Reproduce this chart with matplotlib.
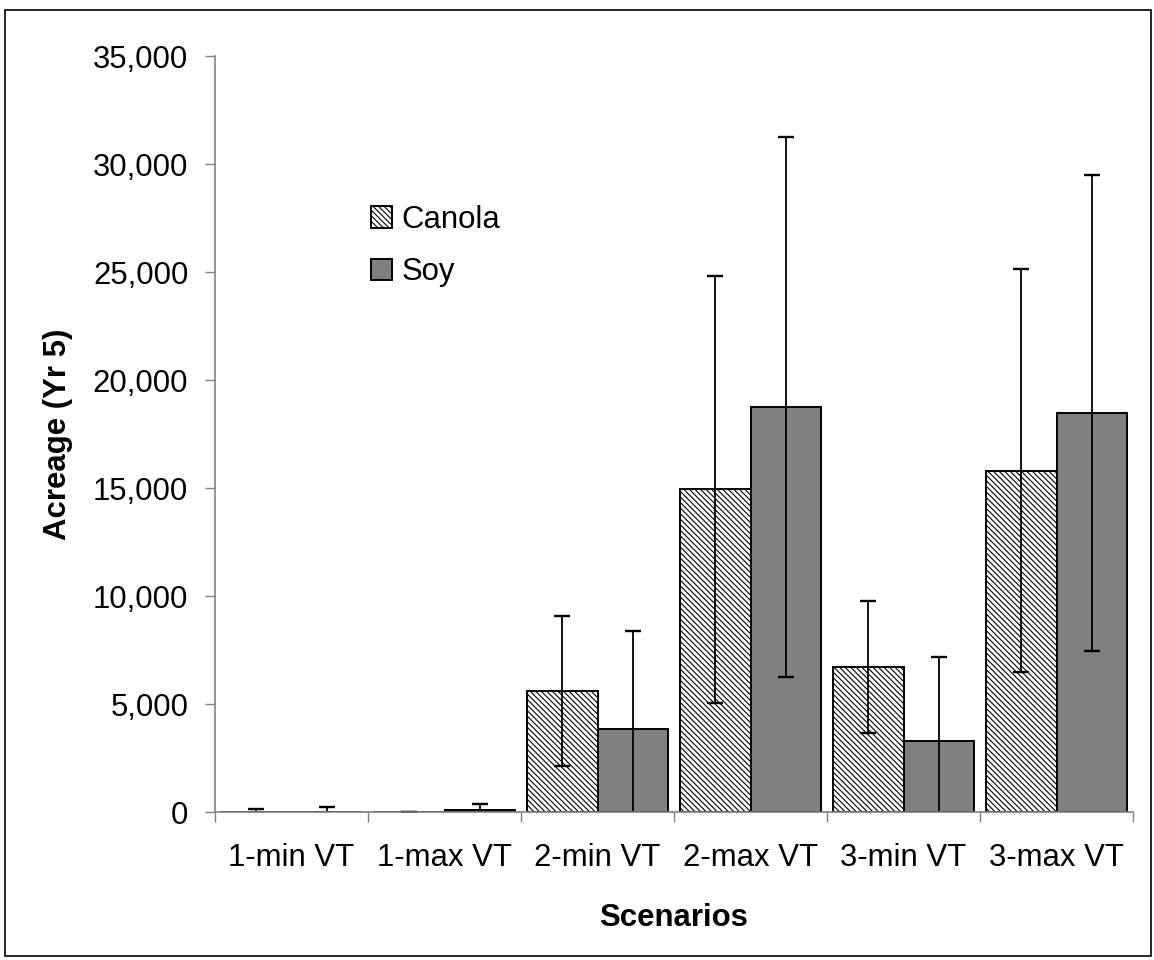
import numpy as np
import matplotlib
matplotlib.use("Agg")
import matplotlib.pyplot as plt
from matplotlib.patches import Rectangle
from matplotlib.ticker import FuncFormatter, FixedLocator

# Data
scenarios = ["1-min VT", "1-max VT", "2-min VT", "2-max VT", "3-min VT", "3-max VT"]
canola = [0, 0, 5630, 14960, 6740, 15810]
canola_err = [150, 0, 3470, 9880, 3055, 9320]
soy = [0, 90, 3855, 18770, 3315, 18490]
soy_err = [260, 280, 4535, 12495, 3890, 11010]

plt.rcParams["font.family"] = ["Liberation Sans", "DejaVu Sans"]
plt.rcParams["hatch.linewidth"] = 0.8
plt.rcParams["hatch.color"] = "black"

fs = 22.4

fig = plt.figure(figsize=(11.54, 9.6), dpi=100)
ax = fig.add_axes([215 / 1154, 1 - 812.3 / 960, (1133 - 215) / 1154, (812.3 - 56) / 960])

x = np.arange(len(scenarios))
w = 0.46
err_kw = dict(ecolor="black", elinewidth=1.3, capsize=5.5, capthick=1.7)

ax.bar(x - w / 2, canola, w, yerr=canola_err, color="white", edgecolor="black",
       linewidth=1.4, hatch="\\" * 6, label="Canola", error_kw=err_kw)
ax.bar(x + w / 2, soy, w, yerr=soy_err, color="#808080", edgecolor="black",
       linewidth=1.4, label="Soy", error_kw=err_kw)

ax.set_xlim(-0.5, len(scenarios) - 0.5)
ax.set_ylim(0, 35000)
ax.set_yticks(np.arange(0, 35001, 5000))
ax.yaxis.set_major_formatter(FuncFormatter(lambda v, p: f"{int(v):,}"))

# category labels in the middle, tick marks at the boundaries
ax.set_xticks(x)
ax.set_xticklabels(scenarios)
ax.xaxis.set_minor_locator(FixedLocator(np.arange(-0.5, len(scenarios), 1.0)))
ax.tick_params(axis="x", which="major", length=0, pad=22, labelsize=fs)
ax.tick_params(axis="x", which="minor", length=7.5, width=1.0, color="#808080", direction="out")
ax.tick_params(axis="y", length=7.2, width=1.0, color="#808080", pad=12, labelsize=fs)

for s in ["top", "right"]:
    ax.spines[s].set_visible(False)
for s in ["left", "bottom"]:
    ax.spines[s].set_color("#808080")
    ax.spines[s].set_linewidth(1.2)
    ax.spines[s].set_zorder(5)

ax.set_xlabel("Scenarios", fontsize=fs, fontweight="bold", labelpad=22)
ax.set_ylabel("Acreage (Yr 5)", fontsize=fs, fontweight="bold", labelpad=14)

ax.legend(loc="upper left", bbox_to_anchor=(371 / 1154, 1 - 205 / 960),
          bbox_transform=fig.transFigure, frameon=False, fontsize=fs,
          handlelength=0.68, handleheight=0.68, handletextpad=0.3,
          labelspacing=0.72, borderpad=0, borderaxespad=0)

# outer frame around the whole chart
fig.patches.append(Rectangle((5 / 1154, 1 - 956 / 960), 1146 / 1154, 946 / 960,
                             transform=fig.transFigure, fill=False,
                             edgecolor="black", linewidth=1.2))

fig.savefig("out.png", dpi=100)
